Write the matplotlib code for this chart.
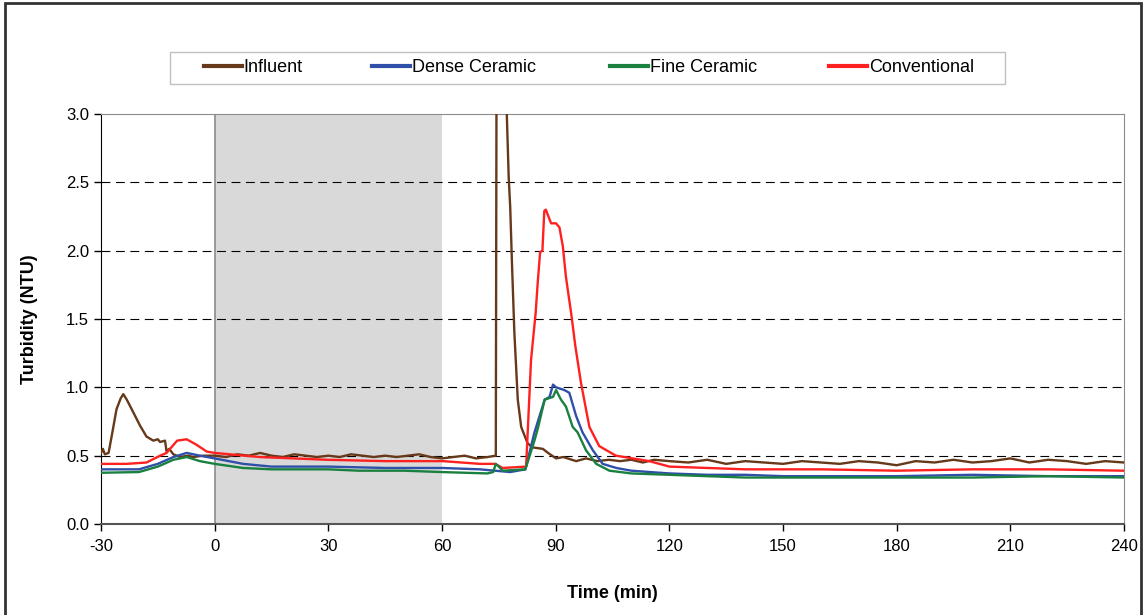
import numpy as np
import matplotlib
matplotlib.use("Agg")
import matplotlib.pyplot as plt
from matplotlib.patches import Rectangle

plt.rcParams['font.family'] = ['Liberation Sans', 'DejaVu Sans']
plt.rcParams['axes.unicode_minus'] = False

# ---- data (time in min, turbidity in NTU) ----
t_inf = [-30, -29.5, -29, -28, -27.2, -25.9, -24.8, -24.1, -23.2, -21.9, -19.7, -18, -16.2, -15, -14.4, -13.1,
         -12.7, -12, -10.9, -9.2, -7, -5.7, -3, 0, 3, 6, 9, 12, 15, 18, 21, 24, 27, 30, 33, 36, 39, 42, 45,
         48, 51, 54, 57, 60, 63, 66, 69, 72, 74.2, 74.4, 76.8, 77.1, 77.6, 78.0, 78.5, 79.1, 80.0, 80.9,
         82.6, 84, 86.6, 88, 90.1, 92, 95.4, 98, 101, 104, 107, 110, 113, 116, 120, 125, 130, 135, 140,
         145, 150, 155, 160, 165, 170, 175, 180, 185, 190, 195, 200, 205, 210, 215, 220, 225, 230, 235, 240]
y_inf = [0.52, 0.55, 0.51, 0.52, 0.64, 0.84, 0.92, 0.95, 0.91, 0.84, 0.72, 0.64, 0.61, 0.62, 0.60, 0.61,
         0.53, 0.55, 0.51, 0.49, 0.50, 0.49, 0.50, 0.50, 0.49, 0.51, 0.50, 0.52, 0.50, 0.49, 0.51, 0.50, 0.49, 0.50, 0.49, 0.51, 0.50, 0.49, 0.50,
         0.49, 0.50, 0.51, 0.49, 0.48, 0.49, 0.50, 0.48, 0.49, 0.50, 3.4, 3.4, 3.0, 2.54, 2.32, 1.88, 1.40, 0.91, 0.71,
         0.59, 0.56, 0.55, 0.52, 0.48, 0.49, 0.46, 0.48, 0.46, 0.47, 0.46, 0.47, 0.45, 0.47, 0.46, 0.45, 0.47, 0.44, 0.46,
         0.45, 0.44, 0.46, 0.45, 0.44, 0.46, 0.45, 0.43, 0.46, 0.45, 0.47, 0.45, 0.46, 0.48, 0.45, 0.47, 0.46, 0.44, 0.46, 0.45]

t_dense = [-30, -20, -15, -10.9, -7.4, -3.9, 0, 7.5, 15, 30, 45, 60, 70, 74, 78, 82, 84.4, 87.1, 88.4, 89.3,
           90.1, 92.3, 93.6, 95.4, 97.1, 99.8, 102.4, 106, 110, 115, 120, 130, 140, 150, 160, 180, 200, 220, 240]
y_dense = [0.40, 0.40, 0.44, 0.49, 0.52, 0.50, 0.48, 0.44, 0.42, 0.42, 0.41, 0.41, 0.40, 0.39, 0.38, 0.40, 0.67, 0.91, 0.93, 1.02,
           1.00, 0.98, 0.96, 0.79, 0.67, 0.54, 0.44, 0.41, 0.39, 0.38, 0.37, 0.36, 0.36, 0.35, 0.35, 0.35, 0.36, 0.35, 0.35]

t_fine = [-30, -20, -15, -10.9, -7.4, -3.9, 0, 7.5, 15, 30, 38, 50, 60, 72, 73.5, 74.2, 75, 76, 82, 84.4, 85.3,
          87.1, 89.3, 90.1, 91.4, 92.7, 94.5, 95.8, 98.0, 100.7, 104.2, 110, 120, 130, 140, 160, 180, 200, 220, 240]
y_fine = [0.375, 0.38, 0.42, 0.47, 0.49, 0.46, 0.44, 0.41, 0.40, 0.40, 0.39, 0.39, 0.38, 0.37, 0.38, 0.44, 0.42, 0.39, 0.40, 0.61, 0.70,
          0.91, 0.93, 0.98, 0.91, 0.86, 0.71, 0.67, 0.54, 0.44, 0.39, 0.37, 0.36, 0.35, 0.34, 0.34, 0.34, 0.34, 0.35, 0.34]

t_conv = [-30, -23.2, -18, -14.4, -12.7, -9.9, -7.4, -4.8, -2.1, 0, 11.9, 29.5, 45, 60.2, 70, 74, 76, 82.2,
          83.5, 84.7, 85.3, 85.9, 86.5, 87.0, 87.4, 88.8, 90.1, 91.0, 91.9, 92.7, 94.1, 95.2, 96.7, 98.9,
          101.5, 105.9, 114.7, 120, 130, 140, 160, 180, 200, 220, 240]
y_conv = [0.44, 0.44, 0.45, 0.50, 0.52, 0.61, 0.62, 0.58, 0.53, 0.52, 0.49, 0.47, 0.46, 0.46, 0.44, 0.44, 0.41, 0.42,
          1.20, 1.54, 1.78, 1.99, 2.00, 2.29, 2.30, 2.20, 2.20, 2.17, 2.03, 1.81, 1.54, 1.30, 1.03, 0.71,
          0.57, 0.50, 0.46, 0.42, 0.41, 0.40, 0.40, 0.39, 0.40, 0.40, 0.39]

labels = ["Influent", "Dense Ceramic", "Fine Ceramic", "Conventional"]
colors = ["#66391a", "#2f4fa8", "#1a8040", "#ff2020"]

fig = plt.figure(figsize=(11.43, 6.15), dpi=100)
ax = fig.add_axes([101/1143, 1 - 524/615, (1124-101)/1143, (524-114)/615])

# shaded period 0-60 min
ax.axvspan(0, 60, color="#d9d9d9", zorder=0, lw=0)
ax.axvline(0, color="#8c8c8c", lw=1.2, zorder=1)

for yv in [0.5, 1.0, 1.5, 2.0, 2.5]:
    ax.axhline(yv, color="black", lw=0.8, ls=(0, (8, 5)), zorder=1)

lines = []
lines += ax.plot(t_inf, y_inf, color=colors[0], lw=1.7, label=labels[0], zorder=3)
lines += ax.plot(t_dense, y_dense, color=colors[1], lw=1.7, label=labels[1], zorder=3)
lines += ax.plot(t_fine, y_fine, color=colors[2], lw=1.7, label=labels[2], zorder=4)
lines += ax.plot(t_conv, y_conv, color=colors[3], lw=1.7, label=labels[3], zorder=3)

ax.set_xlim(-30, 240)
ax.set_ylim(0, 3.0)
ax.set_xticks(np.arange(-30, 241, 30))
ax.set_yticks(np.arange(0, 3.01, 0.5))
ax.set_yticklabels([f"{v:.1f}" for v in np.arange(0, 3.01, 0.5)])
ax.tick_params(direction="out", length=5, width=1, labelsize=12, colors="black")
ax.tick_params(axis="x", pad=6)

ax.spines["left"].set_color("black")
ax.spines["bottom"].set_color("#555555")
ax.spines["bottom"].set_linewidth(1.5)
ax.spines["top"].set_color("#8c8c8c")
ax.spines["right"].set_color("#8c8c8c")

ax.set_xlabel("Time (min)", fontsize=13, fontweight="bold", labelpad=22)
ax.set_ylabel("Turbidity (NTU)", fontsize=13, fontweight="bold", labelpad=20)

# legend box (Excel style) with one entry per slot
fig.patches.append(Rectangle((170/1143, 1 - 84/615), (1005-170)/1143, 32/615, transform=fig.transFigure,
                             fill=False, edgecolor="#bfbfbf", lw=1.0))
slot_x = [204, 372, 610, 829]
for ln, lab, sx in zip(lines, labels, slot_x):
    lg = fig.legend([ln], [lab], loc="center left", bbox_to_anchor=(sx/1143, 1 - 68/615),
                    frameon=False, fontsize=13, handlelength=2.1, handletextpad=0.1,
                    borderpad=0, borderaxespad=0)
    for h in lg.legend_handles:
        h.set_linewidth(3)

# outer border
fig.patches.append(Rectangle((5/1143, -0.01), (1141-5)/1143, 1 - 3/615 + 0.01, transform=fig.transFigure,
                             fill=False, edgecolor="#333333", lw=2))

fig.savefig("out.png", dpi=100)
